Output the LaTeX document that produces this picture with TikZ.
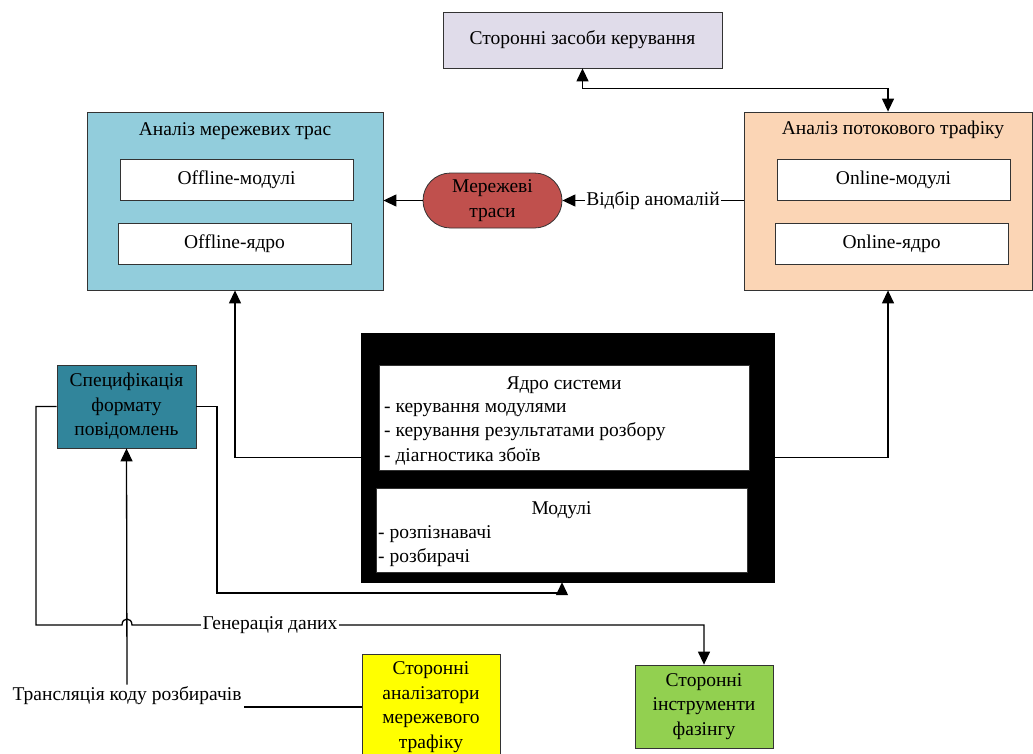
\documentclass[tikz,border=0pt]{standalone}
\usepackage{fontspec}
\setmainfont{Liberation Serif}
\usetikzlibrary{arrows.meta,shapes.misc}
\definecolor{cTop}{RGB}{224,220,234}
\definecolor{cLeft}{RGB}{146,205,220}
\definecolor{cRight}{RGB}{251,213,181}
\definecolor{cTrace}{RGB}{192,80,77}
\definecolor{cSpec}{RGB}{49,133,155}
\definecolor{cYellow}{RGB}{255,255,0}
\definecolor{cGreen}{RGB}{146,208,80}
\newcommand\dfont{\fontsize{19.5}{24.5}\selectfont}
\begin{document}
\begin{tikzpicture}[x=1pt,y=-1pt,
  every node/.style={font=\dfont, inner sep=0pt},
  box/.style={draw=black!80, line width=0.8pt, align=center},
  conn/.style={line width=1.3pt},
  arr/.style={conn, -{Triangle[width=12pt,length=13pt]}},
  biarr/.style={conn, {Triangle[width=12pt,length=13pt]}-{Triangle[width=12pt,length=13pt]}},
  lbl/.style={fill=white, inner sep=1.5pt}]
\useasboundingbox (0,0) rectangle (1033,753);

% top box
\node[box, fill=cTop, minimum width=279pt, minimum height=56pt] (top) at (582.5,40) {Сторонні засоби керування};

% left big box
\node[box, fill=cLeft, minimum width=296pt, minimum height=178pt] (trace) at (235,201) {};
\node (tracetitle) at (235,131) {Аналіз мережевих трас};
\node[box, fill=white, minimum width=233pt, minimum height=41pt] (offmod) at (236.5,179.5) {Offline-модулі};
\node[box, fill=white, minimum width=233pt, minimum height=41pt] (offcore) at (234.5,243.5) {Offline-ядро};

% right big box
\node[box, fill=cRight, minimum width=288pt, minimum height=178pt] (online) at (888,201) {};
\node (onlinetitle) at (893,130) {Аналіз потокового трафіку};
\node[box, fill=white, minimum width=233pt, minimum height=41pt] (onmod) at (893.5,179.5) {Online-модулі};
\node[box, fill=white, minimum width=233pt, minimum height=41pt] (oncore) at (891.5,243.5) {Online-ядро};

% traces stadium
\node[box, rounded rectangle, fill=cTrace, minimum width=139pt, minimum height=55pt] (traces) at (492.5,200.5) {Мережеві\\траси};

% core black box
\node[fill=black, draw=black, minimum width=413pt, minimum height=249pt] (core) at (567.5,457.5) {};
\node[box, fill=white, minimum width=370pt, minimum height=105pt] (kern) at (564,417.5) {};
\node (kerntitle) at (564,385) {Ядро системи};
\node[anchor=west, align=left] (kernlist) at (384,434) {- керування модулями\\- керування результатами розбору\\- діагностика збоїв};
\node[box, fill=white, minimum width=371pt, minimum height=84pt] (mods) at (561.5,530) {};
\node (modstitle) at (561.5,510) {Модулі};
\node[anchor=west, align=left] (modslist) at (378,546) {- розпізнавачі\\- розбирачі};

% spec box
\node[box, fill=cSpec, minimum width=139pt, minimum height=83pt] (spec) at (126.5,406.5) {Специфікація\\формату\\повідомлень};

% bottom boxes
\node[box, fill=cYellow, minimum width=138pt, minimum height=106pt] (yellow) at (431,707) {Сторонні\\аналізатори\\мережевого\\трафіку};
\node[box, fill=cGreen, minimum width=138pt, minimum height=83pt] (fuzz) at (704,706.5) {Сторонні\\інструменти\\фазінгу};

% translation label
\node[inner sep=2pt] (transl) at (127,696) {Трансляція коду розбирачів};

% connectors
\draw[biarr] (top.south) -- ++(0,20) -| (online.north);
\draw[arr] (core.west) -| (trace.south);
\draw[arr] (core.east) -| (online.south);
\draw[arr] (traces.west) -- (traces.west -| trace.east);
\draw[arr] (online.west |- traces.east) -- node[lbl] (anom) {Відбір аномалій} (traces.east);

\coordinate (s1) at (217,593);
\draw[arr] (spec.east) -| (s1) -| ([xshift=-5.5pt]core.south);

\coordinate (g1) at (36,625);
\coordinate (h1) at (122,625);
\coordinate (h2) at (132,625);
\coordinate (g2) at (704,625);
\draw[arr] (spec.west) -| (g1) -- (h1) .. controls (122,617) and (132,617) .. (h2) -- (g2) -- (fuzz.north);
\node[lbl] (gen) at (270,625) {Генерація даних};

\draw[arr] (transl.north) -- (spec.south);
\draw[conn] (yellow.west) -- (yellow.west -| transl.east);
\end{tikzpicture}
\end{document}
